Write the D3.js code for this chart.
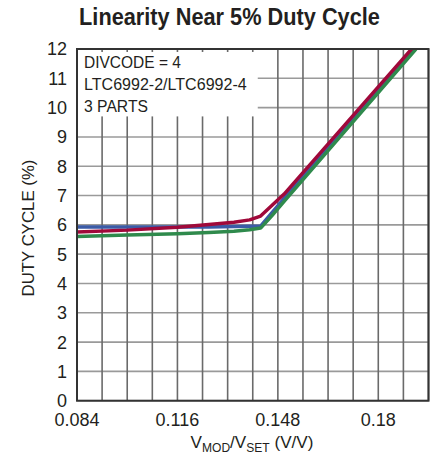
<!doctype html>
<head>
  <meta charset="utf-8">
  <script src="https://cdnjs.cloudflare.com/ajax/libs/d3/7.8.2/d3.min.js"></script>
</head>
<style>
    body { margin: 0; background: white; }
    svg { display: block; font-family: "Liberation Sans", Arial, sans-serif; }
</style>
<body>
    <div id="chart"></div>
    <script>
        // Datos
        const vmodRatio = [0.084, 0.100, 0.116, 0.126, 0.134, 0.139, 0.1425, 0.146, 0.150, 0.160, 0.176, 0.192];
        const partBlue  = [5.93, 5.93, 5.93, 5.93, 5.94, 5.95, 5.96, 6.40, 6.90, 8.13, 10.12, 12.11];
        const partGreen = [5.60, 5.65, 5.70, 5.74, 5.78, 5.83, 5.89, 6.30, 6.80, 8.04, 10.02, 12.00];
        const partRed   = [5.76, 5.82, 5.92, 6.01, 6.09, 6.17, 6.30, 6.65, 7.05, 8.27, 10.22, 12.17];
        const xTickLabels = [0.084, 0.116, 0.148, 0.18];
        const yTickLabels = [0, 1, 2, 3, 4, 5, 6, 7, 8, 9, 10, 11, 12];
        const noteLines = ["DIVCODE = 4", "LTC6992-2/LTC6992-4", "3 PARTS"];

        const width = 435, height = 465;
        const plotLeft = 77, plotRight = 428.5, plotTop = 49, plotBottom = 400.7;
        const ink = '#231f20';

        const svg = d3.select('#chart').append('svg')
            .attr('width', width)
            .attr('height', height);

        // Estrecha un texto (fuente condensada no disponible) hasta un ancho dado
        function squeeze(sel, tx, ty, target, rotate) {
            const w = sel.node().getBBox().width;
            sel.attr('transform', `translate(${tx},${ty})${rotate ? ' rotate(' + rotate + ')' : ''} scale(${target / w},1)`);
        }

        const x = d3.scaleLinear().domain([0.084, 0.196]).range([plotLeft, plotRight]);
        const y = d3.scaleLinear().domain([0, 12]).range([plotBottom, plotTop]);

        // Rejilla
        const xGrid = d3.range(15).map(i => 0.084 + i * 0.008);
        svg.append('g').selectAll('line')
            .data(yTickLabels)
            .enter().append('line')
            .attr('x1', plotLeft).attr('x2', plotRight)
            .attr('y1', d => y(d)).attr('y2', d => y(d))
            .attr('stroke', '#9a9a9a').attr('stroke-width', 1.6);
        svg.append('g').selectAll('line')
            .data(xGrid)
            .enter().append('line')
            .attr('x1', d => x(d)).attr('x2', d => x(d))
            .attr('y1', plotTop).attr('y2', plotBottom)
            .attr('stroke', '#6a6a6a').attr('stroke-width', 1.6);

        // Caja de la nota (tapa la rejilla)
        const boxRight = x(0.14) + 5, boxBottom = y(9.7);
        svg.append('rect')
            .attr('x', plotLeft).attr('y', plotTop)
            .attr('width', boxRight - plotLeft).attr('height', boxBottom - plotTop)
            .attr('fill', 'white');
        svg.append('g').selectAll('line')
            .data(xGrid.filter(d => x(d) > plotLeft + 2 && x(d) < boxRight))
            .enter().append('line')
            .attr('x1', d => x(d)).attr('x2', d => x(d))
            .attr('y1', plotTop).attr('y2', plotTop + 3)
            .attr('stroke', '#6a6a6a').attr('stroke-width', 1.6);

        const noteWidths = [97, 163, 64];
        noteLines.forEach((txt, i) => {
            const t = svg.append('text')
                .attr('font-size', 16)
                .attr('fill', ink)
                .text(txt);
            squeeze(t, plotLeft + 7, 68 + i * 22, noteWidths[i]);
        });

        // Curvas
        svg.append('clipPath').attr('id', 'plot-clip')
            .append('rect')
            .attr('x', plotLeft).attr('y', plotTop)
            .attr('width', plotRight - plotLeft).attr('height', plotBottom - plotTop);

        const line = d3.line()
            .x((d, i) => x(vmodRatio[i]))
            .y(d => y(d));

        const series = [
            {values: partBlue, color: '#3b5ba6'},
            {values: partGreen, color: '#2f8a4c'},
            {values: partRed, color: '#a0093a'},
        ];

        svg.append('g').attr('clip-path', 'url(#plot-clip)')
            .selectAll('path')
            .data(series)
            .enter().append('path')
            .attr('d', d => line(d.values))
            .attr('fill', 'none')
            .attr('stroke', d => d.color)
            .attr('stroke-width', 3.5)
            .attr('stroke-linejoin', 'round');

        // Marco
        svg.append('rect')
            .attr('x', plotLeft).attr('y', plotTop)
            .attr('width', plotRight - plotLeft).attr('height', plotBottom - plotTop)
            .attr('fill', 'none')
            .attr('stroke', '#333')
            .attr('stroke-width', 2);

        // Etiquetas de los ejes
        svg.append('g').selectAll('text')
            .data(yTickLabels)
            .enter().append('text')
            .attr('x', 67)
            .attr('y', d => y(d))
            .attr('dy', '0.36em')
            .attr('text-anchor', 'end')
            .attr('font-size', 18)
            .attr('fill', ink)
            .text(d => d);

        svg.append('g').selectAll('text')
            .data(xTickLabels)
            .enter().append('text')
            .attr('x', d => x(d))
            .attr('y', 426)
            .attr('text-anchor', 'middle')
            .attr('font-size', 18)
            .attr('fill', ink)
            .text(d => d);

        const xLabel = svg.append('text')
            .attr('text-anchor', 'middle')
            .attr('font-size', 17)
            .attr('fill', ink);
        xLabel.append('tspan').text('V');
        xLabel.append('tspan').attr('font-size', 12).attr('dy', 4).text('MOD');
        xLabel.append('tspan').attr('dy', -4).text('/V');
        xLabel.append('tspan').attr('font-size', 12).attr('dy', 4).text('SET');
        xLabel.append('tspan').attr('dy', -4).text(' (V/V)');
        squeeze(xLabel, 252, 448, 123);

        const yLabel = svg.append('text')
            .attr('text-anchor', 'middle')
            .attr('font-size', 17)
            .attr('fill', ink)
            .text('DUTY CYCLE (%)');
        squeeze(yLabel, 34, 228, 137, -90);

        // Título
        const title = svg.append('text')
            .attr('text-anchor', 'middle')
            .attr('font-size', 24.5)
            .attr('font-weight', 'bold')
            .attr('fill', ink)
            .text('Linearity Near 5% Duty Cycle');
        squeeze(title, 229.5, 25, 301);
    </script>
</body>
